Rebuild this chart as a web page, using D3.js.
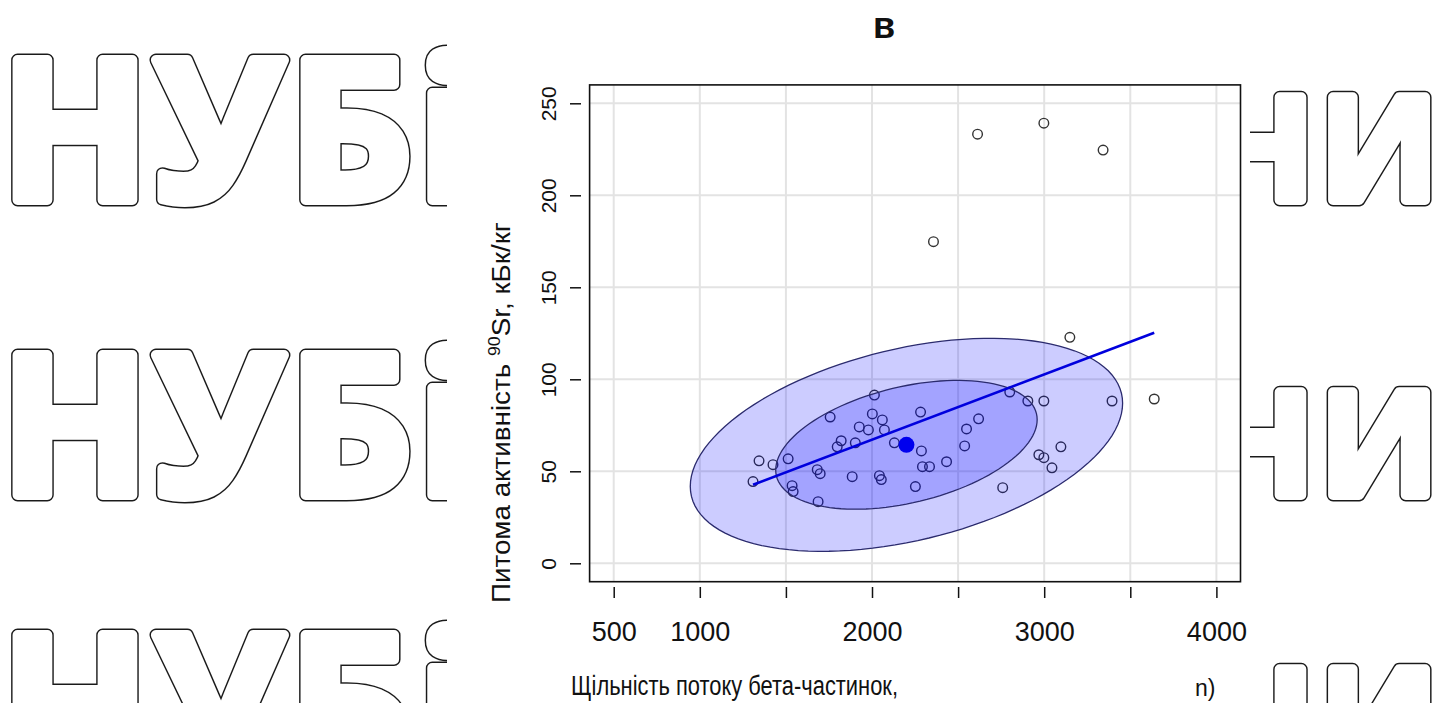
<!DOCTYPE html>
<html>
<head>
<meta charset="utf-8">
<script src="https://cdn.jsdelivr.net/npm/d3@7"></script>
<style>
  body { margin: 0; background: #fff; }
  svg { display: block; }
</style>
</head>
<body>
<svg id="chart" width="1445" height="703"></svg>
<script>
// Beta-particle flux density (x) vs. specific activity of 90Sr (y), one value per sample
const betaFlux = [1309, 1344, 1425, 1513, 1536, 1542, 1687, 1682, 1699, 1757,
                  1885, 2014, 2002, 2060, 1926, 1979, 2072, 1821, 1798, 1903,
                  2130, 2282, 2287, 2293, 2334, 2433, 2043, 2054, 2252, 2549,
                  2619, 2538, 2800, 2905, 2998, 3394, 3639, 3149, 2759, 2969,
                  2998, 3045, 3097, 2613, 2998, 3342, 2357];
const sr90 = [44.4, 55.7, 53.6, 56.8, 42.2, 39.0, 33.5, 50.9, 48.7, 79.5,
              47.1, 91.4, 81.2, 77.9, 74.1, 72.5, 72.5, 66.6, 63.3, 65.5,
              65.5, 82.2, 61.1, 52.5, 52.5, 55.2, 47.6, 45.5, 41.7, 73.0,
              78.5, 63.8, 93.1, 88.2, 88.2, 88.2, 89.3, 122.8, 41.1, 59.0,
              57.4, 51.9, 63.3, 233.2, 239.2, 224.6, 174.8];

// Axis ticks
const xTicks = [500, 1000, 1500, 2000, 2500, 3000, 3500, 4000];
const xTickLabels = ["500", "1000", "", "2000", "", "3000", "", "4000"];
const yTicks = [0, 50, 100, 150, 200, 250];
const yTickLabels = ["0", "50", "100", "150", "200", "250"];

// Robust data ellipse: centre, covariance and the two contour radii
const ellipseCenter = [2200, 64.4];
const ellipseCov = [[246200, 4432], [4432, 523.7]];
const ellipseRadii = [2.53, 1.53];

// Texts
const titleText = "в";
const yTitle = ["Питома активність ", "90", "Sr, кБк/кг"];
const xTitle = "Щільність потоку бета-частинок,";
const xTitleTail = "n)";
const markLeft = "НУБі";
const markRight = "НИ";
const markLeftBase = [200, 495, 775];
const markRightBase = [200, 495, 772];

const svg = d3.select("#chart");
const FONT = "'Liberation Sans', Arial, Helvetica, sans-serif";

// ---- background lettering: outlined, rounded heavy letters ----
function outlined(g, txt, xPos, yPos, size, spacing, anchor) {
  const grow = 10, ring = 1.5;
  [["#1a1a1a", grow + 2 * ring], ["#fff", grow]].forEach(([col, w]) => {
    g.append("text").attr("x", xPos).attr("y", yPos).attr("text-anchor", anchor)
      .attr("font-family", "'Open Sans', sans-serif").attr("font-weight", 700)
      .attr("font-size", size).attr("letter-spacing", spacing)
      .attr("fill", col).attr("stroke", col).attr("stroke-width", w)
      .attr("stroke-linejoin", "round").text(txt);
  });
}
const mark = svg.append("g");
markLeftBase.forEach(b => outlined(mark, markLeft, 0, b, 196, 4, "start"));
markRightBase.forEach(b => outlined(mark, markRight, 1444, b, 143, 6, "end"));
// white panel behind the chart
svg.append("rect").attr("x", 447).attr("y", 0).attr("width", 803).attr("height", 703).attr("fill", "#fff");

// ---- scales ----
const x = d3.scaleLinear().domain([360, 4140]).range([589.6, 1240.5]);
const y = d3.scaleLinear().domain([-10, 260]).range([581.7, 84.9]);

const plot = svg.append("g");
plot.append("defs").append("clipPath").attr("id", "clip")
  .append("rect").attr("x", x.range()[0]).attr("y", y.range()[1])
  .attr("width", x.range()[1] - x.range()[0]).attr("height", y.range()[0] - y.range()[1]);

// grid
const grid = plot.append("g").attr("stroke", "#e3e3e3").attr("stroke-width", 2);
grid.selectAll("line.v").data(xTicks).join("line").attr("class", "v")
  .attr("x1", d => x(d)).attr("x2", d => x(d)).attr("y1", y.range()[1]).attr("y2", y.range()[0]);
grid.selectAll("line.h").data(yTicks).join("line").attr("class", "h")
  .attr("y1", d => y(d)).attr("y2", d => y(d)).attr("x1", x.range()[0]).attr("x2", x.range()[1]);

// points
const pts = betaFlux.map((v, i) => [v, sr90[i]]);
plot.append("g").selectAll("circle").data(pts).join("circle")
  .attr("cx", d => x(d[0])).attr("cy", d => y(d[1])).attr("r", 4.8)
  .attr("fill", "none").attr("stroke", "#333").attr("stroke-width", 1.4);

// ellipses
const L11 = Math.sqrt(ellipseCov[0][0]);
const L21 = ellipseCov[1][0] / L11;
const L22 = Math.sqrt(ellipseCov[1][1] - L21 * L21);
function ellipsePts(r) {
  return d3.range(0, 121).map(k => {
    const t = 2 * Math.PI * k / 120, c = Math.cos(t), s = Math.sin(t);
    return [ellipseCenter[0] + r * L11 * c, ellipseCenter[1] + r * (L21 * c + L22 * s)];
  });
}
const eLine = d3.line().x(d => x(d[0])).y(d => y(d[1])).curve(d3.curveLinearClosed);
const eg = plot.append("g").attr("clip-path", "url(#clip)");
ellipseRadii.forEach(r => {
  eg.append("path").attr("d", eLine(ellipsePts(r)))
    .attr("fill", "#0000ff").attr("fill-opacity", 0.2)
    .attr("stroke", "#2b2b6e").attr("stroke-width", 1.3);
});

// least-squares line over the data range
const mx = d3.mean(betaFlux), my = d3.mean(sr90);
let sxy = 0, sxx = 0;
betaFlux.forEach((v, i) => { sxy += (v - mx) * (sr90[i] - my); sxx += (v - mx) * (v - mx); });
const slope = sxy / sxx, icpt = my - slope * mx;
const [xmin, xmax] = d3.extent(betaFlux);
plot.append("line")
  .attr("x1", x(xmin)).attr("y1", y(icpt + slope * xmin))
  .attr("x2", x(xmax)).attr("y2", y(icpt + slope * xmax))
  .attr("stroke", "#0000dd").attr("stroke-width", 2.6);

// ellipse centre
plot.append("circle").attr("cx", x(ellipseCenter[0])).attr("cy", y(ellipseCenter[1]))
  .attr("r", 8).attr("fill", "#0000ee");

// frame
plot.append("rect").attr("x", x.range()[0]).attr("y", y.range()[1])
  .attr("width", x.range()[1] - x.range()[0]).attr("height", y.range()[0] - y.range()[1])
  .attr("fill", "none").attr("stroke", "#111").attr("stroke-width", 1.6);

// axes (ticks set off from the frame)
const xAxis = d3.axisBottom(x).tickValues(xTicks).tickSize(11).tickPadding(24)
  .tickFormat((d, i) => xTickLabels[i]);
const gx = svg.append("g").attr("transform", "translate(0,587)").call(xAxis);
gx.select(".domain").remove();
gx.selectAll("line").attr("stroke", "#111").attr("stroke-width", 1.5);
gx.selectAll("text").attr("font-family", FONT).attr("font-size", 27).attr("fill", "#111");
gx.selectAll(".tick").filter((d, i) => xTickLabels[i] === "").select("text").remove();

const yAxis = d3.axisLeft(y).tickValues(yTicks).tickSize(11).tickFormat((d, i) => yTickLabels[i]);
const gy = svg.append("g").attr("transform", "translate(581,0)").call(yAxis);
gy.select(".domain").remove();
gy.selectAll("line").attr("stroke", "#111").attr("stroke-width", 1.5);
gy.selectAll("text").attr("font-family", FONT).attr("font-size", 21).attr("fill", "#111")
  .attr("text-anchor", "middle").attr("x", 0).attr("y", 0).attr("dy", null)
  .attr("transform", "translate(-25,0) rotate(-90)");

// title
svg.append("text").attr("x", 884).attr("y", 38).attr("text-anchor", "middle")
  .attr("font-family", FONT).attr("font-weight", 700).attr("font-size", 36).attr("fill", "#111")
  .text(titleText);

// y title
const yt = svg.append("text").attr("transform", "translate(510,603) rotate(-90)")
  .attr("font-family", FONT).attr("font-size", 25).attr("fill", "#111")
  .attr("textLength", 381).attr("lengthAdjust", "spacingAndGlyphs");
yt.append("tspan").text(yTitle[0]);
yt.append("tspan").attr("font-size", 16).attr("dy", -10).text(yTitle[1]);
yt.append("tspan").attr("dy", 10).text(yTitle[2]);

// x title
svg.append("text").attr("x", 571).attr("y", 695)
  .attr("font-family", FONT).attr("font-size", 27).attr("fill", "#111")
  .attr("textLength", 327).attr("lengthAdjust", "spacingAndGlyphs").text(xTitle);
svg.append("text").attr("x", 1195).attr("y", 696)
  .attr("font-family", FONT).attr("font-size", 23).attr("fill", "#111").text(xTitleTail);
</script>
</body>
</html>
